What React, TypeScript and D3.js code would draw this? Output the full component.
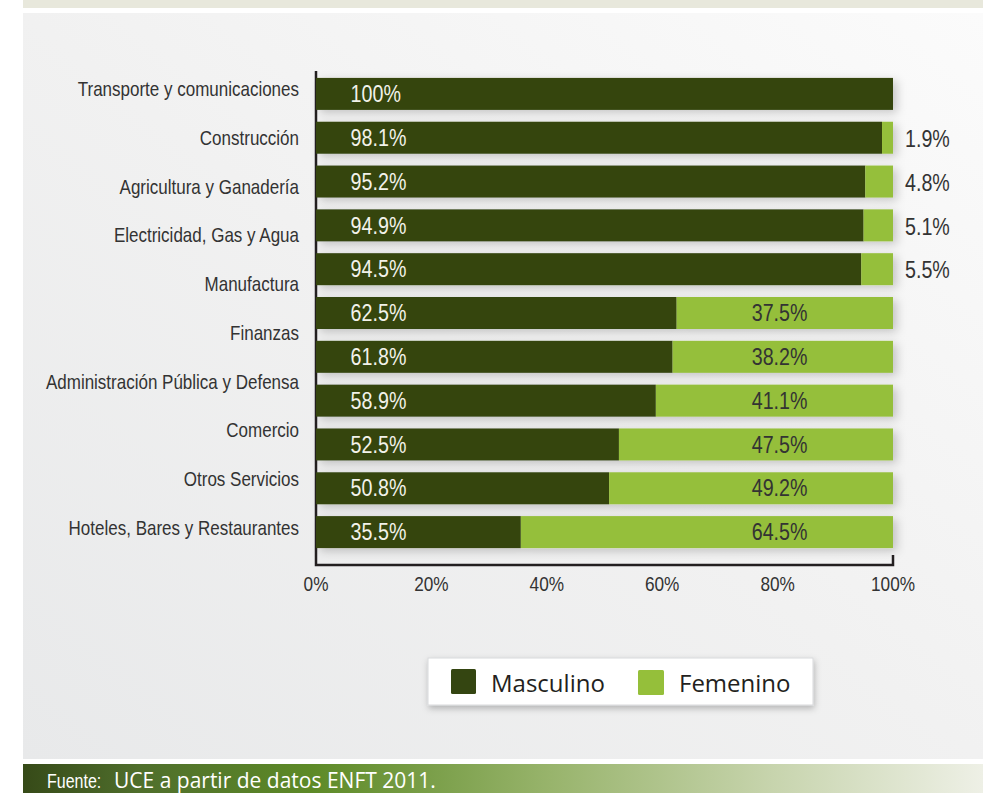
import React from "react";
import * as d3 from "d3";

const categories = [
  "Transporte y comunicaciones",
  "Construcción",
  "Agricultura y Ganadería",
  "Electricidad, Gas y Agua",
  "Manufactura",
  "Finanzas",
  "Administración Pública y Defensa",
  "Comercio",
  "Otros Servicios",
  "Hoteles, Bares y Restaurantes",
];
const masculino = [100, 98.1, 95.2, 94.9, 94.5, 62.5, 61.8, 58.9, 52.5, 50.8, 35.5];
const femenino = [0, 1.9, 4.8, 5.1, 5.5, 37.5, 38.2, 41.1, 47.5, 49.2, 64.5];
const xTicks = [0, 20, 40, 60, 80, 100];
const seriesNames = ["Masculino", "Femenino"];
const sourceLabel = "Fuente:";
const sourceText = "UCE a partir de datos ENFT 2011.";

const W = 983;
const H = 793;
const DARK = "#344511";
const LIGHT = "#95bf3a";
const SANS = "'Liberation Sans', Arial, sans-serif";
const OPEN = "'Open Sans', 'Noto Sans', sans-serif";

function NText(props: {
  x: number;
  y: number;
  size: number;
  fill: string;
  anchor?: "start" | "middle" | "end";
  sx?: number;
  children: React.ReactNode;
}) {
  return (
    <text
      transform={`translate(${props.x},${props.y}) scale(${props.sx ?? 0.82},1)`}
      dominantBaseline="central"
      textAnchor={props.anchor || "start"}
      fontFamily={SANS}
      fontSize={props.size}
      fill={props.fill}
    >
      {props.children}
    </text>
  );
}

export default function App() {
  const x = d3.scaleLinear().domain([0, 100]).range([316, 893]);
  const y = d3
    .scaleBand<number>()
    .domain(masculino.map((_, i) => i))
    .range([72, 554])
    .paddingInner(0.27)
    .paddingOuter(0.135);
  const yLab = d3.scalePoint<string>().domain(categories).range([89, 528]);
  const fmt = (v: number) => (v === 100 ? "100%" : `${v.toFixed(1)}%`);
  const cy = (i: number) => (y(i) as number) + y.bandwidth() / 2;

  return (
    <svg
      width={W}
      height={H}
      style={{ position: "absolute", left: 0, top: 0, display: "block" }}
    >
      <defs>
        <linearGradient id="panel" x1="1" y1="0" x2="0" y2="1">
          <stop offset="0" stopColor="#fbfbfb" />
          <stop offset="0.5" stopColor="#f1f1f1" />
          <stop offset="1" stopColor="#e8e9ea" />
        </linearGradient>
        <linearGradient id="foot" x1="0" y1="0" x2="1" y2="0">
          <stop offset="0" stopColor="#364a18" />
          <stop offset="0.12" stopColor="#4f6e2c" />
          <stop offset="0.3" stopColor="#5d8a27" />
          <stop offset="0.55" stopColor="#98b46c" />
          <stop offset="0.78" stopColor="#c7d4ad" />
          <stop offset="1" stopColor="#eef0e6" />
        </linearGradient>
        <filter id="shadow" x="-10%" y="-10%" width="130%" height="130%">
          <feDropShadow dx="4" dy="3" stdDeviation="5" floodColor="#000" floodOpacity="0.2" />
        </filter>
        <filter id="lshadow" x="-10%" y="-30%" width="120%" height="170%">
          <feDropShadow dx="1" dy="3" stdDeviation="3" floodColor="#000" floodOpacity="0.25" />
        </filter>
      </defs>

      <rect x={0} y={0} width={W} height={H} fill="#ffffff" />
      <rect x={23} y={0} width={960} height={8} fill="#e8e8dc" />
      <rect x={23} y={13} width={960} height={746} fill="url(#panel)" />

      {/* axis */}
      <path
        d={`M${x(0)},71V565H${x(100)}V555`}
        fill="none"
        stroke="#231f20"
        strokeWidth={2.5}
      />

      {/* bars */}
      <g filter="url(#shadow)">
        {masculino.map((m, i) => (
          <g key={i}>
            <rect x={x(0)} y={y(i)} width={x(m) - x(0)} height={y.bandwidth()} fill={DARK} />
            {femenino[i] > 0 && (
              <rect
                x={x(m)}
                y={y(i)}
                width={x(m + femenino[i]) - x(m)}
                height={y.bandwidth()}
                fill={LIGHT}
              />
            )}
          </g>
        ))}
      </g>

      {/* value labels */}
      {masculino.map((m, i) => (
        <NText key={"m" + i} x={x(6)} y={cy(i)} size={24} fill="#f2f2ea">
          {fmt(m)}
        </NText>
      ))}
      {femenino.map((f, i) =>
        f <= 0 ? null : f < 10 ? (
          <NText key={"f" + i} x={x(100) + 12} y={cy(i) + 1} size={24} fill="#333333">
            {fmt(f)}
          </NText>
        ) : (
          <NText key={"f" + i} x={x(80) + 2} y={cy(i)} size={24} fill="#333333" anchor="middle">
            {fmt(f)}
          </NText>
        )
      )}

      {/* category labels */}
      {categories.map((c) => (
        <NText key={c} x={299} y={yLab(c) as number} size={20} fill="#333333" anchor="end" sx={0.85}>
          {c}
        </NText>
      ))}

      {/* x ticks */}
      {xTicks.map((t) => (
        <NText key={t} x={x(t)} y={584} size={21} fill="#333333" anchor="middle">
          {`${t}%`}
        </NText>
      ))}

      {/* legend */}
      <rect x={428} y={658} width={385} height={47} fill="#ffffff" stroke="#d8d9db" strokeWidth={1} filter="url(#lshadow)" />
      <rect x={451} y={669} width={25} height={25} rx={1.5} fill={DARK} />
      <text x={491} y={682} dominantBaseline="central" fontFamily={OPEN} fontSize={24} fill="#231f20">
        {seriesNames[0]}
      </text>
      <rect x={638} y={670} width={26} height={25} rx={1.5} fill={LIGHT} />
      <text x={679} y={682} dominantBaseline="central" fontFamily={OPEN} fontSize={24} fill="#231f20">
        {seriesNames[1]}
      </text>

      {/* footer */}
      <rect x={23} y={764} width={960} height={29} fill="url(#foot)" />
      <text
        transform="translate(47,788) scale(0.82,1)"
        fontFamily={SANS}
        fontSize={19.5}
        fill="#ffffff"
      >
        {sourceLabel}
      </text>
      <text x={114} y={788} fontFamily={OPEN} fontSize={21} fill="#ffffff">
        {sourceText}
      </text>
    </svg>
  );
}
